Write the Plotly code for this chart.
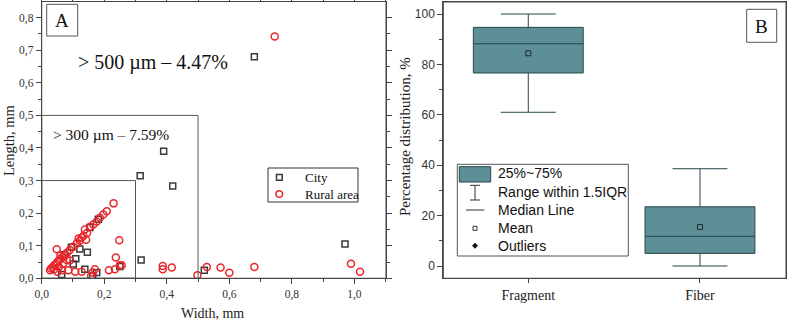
import plotly.graph_objects as go

# ---------------- data ----------------
city_x = [0.68, 0.39, 0.315, 0.419, 0.318, 0.97, 0.52, 0.181, 0.154, 0.122, 0.146, 0.109,
          0.101, 0.138, 0.176, 0.064, 0.163, 0.25, 0.095, 0.072]
city_y = [0.68, 0.39, 0.315, 0.283, 0.056, 0.105, 0.025, 0.181, 0.156, 0.09, 0.08, 0.06,
          0.044, 0.028, 0.018, 0.012, 0.007, 0.036, 0.095, 0.072]

rural_x = [0.745, 0.23, 0.208, 0.197, 0.176, 0.165, 0.138, 0.145, 0.133, 0.142, 0.122, 0.112,
           0.101, 0.09, 0.082, 0.075, 0.068, 0.06, 0.055, 0.05, 0.045, 0.04, 0.035, 0.03,
           0.027, 0.048, 0.248, 0.237, 0.25, 0.256, 0.234, 0.215, 0.17, 0.163, 0.158, 0.128,
           0.107, 0.085, 0.069, 0.065, 0.08, 0.09, 0.06, 0.055, 0.04, 0.05, 0.387, 0.387,
           0.416, 0.498, 0.528, 0.572, 0.60, 0.68, 0.989, 1.018, 0.155, 0.186, 0.118, 0.128]
rural_y = [0.742, 0.230, 0.206, 0.196, 0.174, 0.165, 0.150, 0.139, 0.130, 0.118, 0.115, 0.107,
           0.097, 0.087, 0.079, 0.073, 0.066, 0.06, 0.055, 0.05, 0.044, 0.04, 0.034, 0.03,
           0.025, 0.089, 0.117, 0.064, 0.04, 0.04, 0.028, 0.025, 0.028, 0.018, 0.007, 0.020,
           0.020, 0.025, 0.046, 0.025, 0.056, 0.055, 0.07, 0.035, 0.028, 0.02, 0.038, 0.028,
           0.033, 0.009, 0.035, 0.033, 0.017, 0.035, 0.045, 0.020, 0.158, 0.186, 0.122, 0.125]

size_thresholds = [0.3, 0.5]

box_categories = ["Fragment", "Fiber"]
box_q1 = [76.6, 5.0]
box_median = [88.2, 11.8]
box_q3 = [94.7, 23.5]
box_lower = [61.0, 0.0]
box_upper = [100.0, 38.6]
box_mean = [84.4, 15.5]

a_xticks = [0.0, 0.2, 0.4, 0.6, 0.8, 1.0]
a_xticktext = ["0,0", "0,2", "0,4", "0,6", "0,8", "1,0"]
a_yticks = [0.0, 0.1, 0.2, 0.3, 0.4, 0.5, 0.6, 0.7, 0.8]
a_yticktext = ["0,0", "0,1", "0,2", "0,3", "0,4", "0,5", "0,6", "0,7", "0,8"]
b_yticks = [0, 20, 40, 60, 80, 100]

legend_b_labels = ["25%~75%", "Range within 1.5IQR", "Median Line", "Mean", "Outliers"]

# ---------------- layout helpers ----------------
W, H = 789, 323
def px(x):
    return x / W
def py(y):
    return 1 - y / H

SERIF = "Liberation Serif, Times New Roman, serif"
SANS = "Liberation Sans, Arial, sans-serif"
AX = "#444444"
TEAL = "#5c9096"
BOXLINE = "#25474b"
RED = "#e8262a"
DARK = "#3a3a3a"

fig = go.Figure()

fig.add_trace(go.Scatter(x=city_x, y=city_y, mode="markers", name="City",
                         marker=dict(symbol="square-open", size=6, color=DARK, line=dict(width=1.5)),
                         xaxis="x", yaxis="y", showlegend=False))
fig.add_trace(go.Scatter(x=rural_x, y=rural_y, mode="markers", name="Rural area",
                         marker=dict(symbol="circle-open", size=7, color=RED, line=dict(width=1.5)),
                         xaxis="x", yaxis="y", showlegend=False))

for i, cat in enumerate(box_categories):
    fig.add_trace(go.Box(x=[cat], q1=[box_q1[i]], median=[box_median[i]], q3=[box_q3[i]],
                         lowerfence=[box_lower[i]], upperfence=[box_upper[i]],
                         fillcolor=TEAL, line=dict(color=BOXLINE, width=1),
                         width=0.64, whiskerwidth=0.5, boxpoints=False,
                         xaxis="x2", yaxis="y2", showlegend=False))
fig.add_trace(go.Scatter(x=box_categories, y=box_mean, mode="markers",
                         marker=dict(symbol="square-open", size=5, color="#1a2a2c", line=dict(width=1)),
                         xaxis="x2", yaxis="y2", showlegend=False))

shapes = []
annotations = []

def note(text, x, y, size, family=SERIF, xanchor="center", angle=0, color="#111"):
    annotations.append(dict(text=text, xref="paper", yref="paper", x=px(x), y=py(y),
                            xanchor=xanchor, yanchor="middle", showarrow=False, textangle=angle,
                            font=dict(family=family, size=size, color=color)))

# panel frames
for xr, yr in [("x domain", "y domain"), ("x2 domain", "y2 domain")]:
    shapes.append(dict(type="rect", xref=xr, yref=yr, x0=0, x1=1, y0=0, y1=1,
                       line=dict(color=AX, width=1), layer="above"))

# threshold rectangles
for t in size_thresholds:
    shapes.append(dict(type="rect", xref="x", yref="y", x0=0, y0=0, x1=t, y1=t,
                       line=dict(color="#555555", width=1)))

# Panel label boxes
shapes.append(dict(type="rect", xref="paper", yref="paper", x0=px(46.7), x1=px(77.7),
                   y0=py(36), y1=py(4.3), line=dict(color="#555555", width=1), fillcolor="white"))
note("A", 62.2, 21, 19)
shapes.append(dict(type="rect", xref="paper", yref="paper", x0=px(746.7), x1=px(776.7),
                   y0=py(42.3), y1=py(9.3), line=dict(color="#555555", width=1), fillcolor="white"))
note("B", 761.7, 26.5, 19)

note("> 500 µm – 4.47%", 153, 62, 20)
note("> 300 µm – 7.59%", 110.5, 134, 15.5)

# Legend A
shapes.append(dict(type="rect", xref="paper", yref="paper", x0=px(268), x1=px(358),
                   y0=py(202), y1=py(168), line=dict(color="#333", width=1), fillcolor="white"))
shapes.append(dict(type="rect", xref="paper", yref="paper", x0=px(276.5), x1=px(282.2),
                   y0=py(180.2), y1=py(174.5), line=dict(color=DARK, width=1.5)))
shapes.append(dict(type="circle", xref="paper", yref="paper", x0=px(276), x1=px(282.6),
                   y0=py(197.3), y1=py(190.7), line=dict(color=RED, width=1.5)))
note("City", 302.7, 177.3, 13, xanchor="left")
note("Rural area", 302.7, 194, 13, xanchor="left")

# Legend B
shapes.append(dict(type="rect", xref="paper", yref="paper", x0=px(457.3), x1=px(628.3),
                   y0=py(256), y1=py(164.3), line=dict(color="#555", width=1), fillcolor="white"))
shapes.append(dict(type="rect", xref="paper", yref="paper", x0=px(459.3), x1=px(490.7),
                   y0=py(182), y1=py(166.7), line=dict(color=BOXLINE, width=1), fillcolor=TEAL))
for seg in [((475, 185.3), (475, 200)), ((470, 185.3), (480, 185.3)), ((470, 200), (480, 200)),
            ((466, 210), (484.3, 210))]:
    (x0, y0), (x1, y1) = seg
    shapes.append(dict(type="line", xref="paper", yref="paper", x0=px(x0), x1=px(x1),
                       y0=py(y0), y1=py(y1), line=dict(color="#333", width=1)))
shapes.append(dict(type="rect", xref="paper", yref="paper", x0=px(473), x1=px(477),
                   y0=py(230.3), y1=py(226.3), line=dict(color="#333", width=1)))
shapes.append(dict(type="path", xref="paper", yref="paper",
                   path=f"M {px(475)},{py(243)} L {px(477.7)},{py(245.7)} L {px(475)},{py(248.4)} L {px(472.3)},{py(245.7)} Z",
                   line=dict(color="#111", width=0.5), fillcolor="#111"))
for lab, yy in zip(legend_b_labels, [173.3, 192.3, 210, 227.7, 245.7]):
    note(lab, 495.7, yy, 14, family=SANS, xanchor="left")

# Axis titles
note("Length, mm", 9, 140, 14.5, angle=-90, color="#222")
note("Width, mm", 213, 313, 14, color="#222")
note("Percentage distribution, %", 405, 136, 15, angle=-90, color="#222")

common = dict(showgrid=False, zeroline=False, showline=True, linecolor=AX, linewidth=1,
              ticks="outside", tickcolor=AX, ticklen=5, tickwidth=1, automargin=False)

TOP_A = 1.5
TOP_B = 2.0
fig.update_layout(
    width=W, height=H,
    margin=dict(l=0, r=0, t=0, b=0, pad=0, autoexpand=False),
    paper_bgcolor="white", plot_bgcolor="white",
    showlegend=False,
    xaxis=dict(domain=[px(41.7), px(386)], range=[0, 1.101], tickvals=a_xticks, ticktext=a_xticktext,
               mirror="ticks", minor=dict(dtick=0.1, tick0=0, ticks="outside", ticklen=3, tickcolor=AX),
               tickfont=dict(family=SERIF, size=11.5, color="#333"), anchor="y", **common),
    yaxis=dict(domain=[1 - 278.3 / H, py(TOP_A)], range=[0, (278.3 - TOP_A) / 325.8],
               tickvals=a_yticks, ticktext=a_yticktext,
               mirror="ticks", minor=dict(dtick=0.05, tick0=0, ticks="outside", ticklen=3, tickcolor=AX),
               tickfont=dict(family=SERIF, size=11.5, color="#333"), anchor="x", **common),
    xaxis2=dict(domain=[px(443.3), px(786.0)], range=[-0.495, 1.501], type="category",
                mirror=True, tickfont=dict(family=SERIF, size=14, color="#222"), anchor="y2",
                **{**common, "ticklen": 4}),
    yaxis2=dict(domain=[1 - 278.3 / H, py(TOP_B)], range=[-4.88, (266 - TOP_B) / 2.52],
                tickvals=b_yticks,
                mirror=True, minor=dict(dtick=10, tick0=0, ticks="outside", ticklen=3, tickcolor=AX),
                tickfont=dict(family=SANS, size=12, color="#333"), anchor="x2", **common),
    shapes=shapes,
    annotations=annotations,
)

fig.write_html("out.html", config={"displayModeBar": False},
               post_script="document.body.style.margin='0px';")
